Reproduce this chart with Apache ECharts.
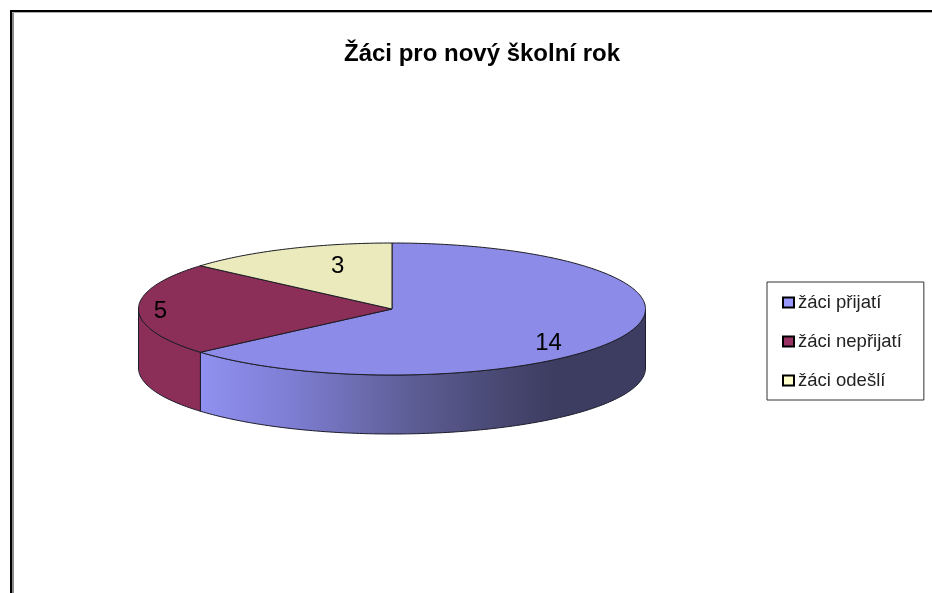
<!DOCTYPE html>
<html>
<head>
<meta charset="utf-8">
<style>
  html, body { margin: 0; padding: 0; background: #fff; }
  #chart { width: 932px; height: 593px; }
</style>
<script src="https://cdn.jsdelivr.net/npm/echarts@6/dist/echarts.min.js"></script>
</head>
<body>
<div id="chart"></div>
<script>
var titleText = 'Žáci pro nový školní rok';
var categories = ['žáci přijatí', 'žáci nepřijatí', 'žáci odešlí'];
var values = [14, 5, 3];

var topColors = ['#8c8ce8', '#8b2e58', '#eaeabc'];
var legendColors = ['#9999ff', '#993366', '#ffffcc'];
// label offset from the rim point at the slice's middle angle
var labelOffsets = [[-74, 7], [22, 2], [51, 17]];

var cx = 392, cy = 309, rx = 253.5, ry = 66, depth = 59;
var font = '"Liberation Sans", Arial, sans-serif';
var total = values.reduce(function (a, b) { return a + b; }, 0);

function rim(deg, dy) {
  var a = deg * Math.PI / 180;
  return [cx + rx * Math.sin(a), cy - ry * Math.cos(a) + (dy || 0)];
}

function arcPoints(from, to, dy) {
  var pts = [];
  var n = Math.max(2, Math.ceil(Math.abs(to - from)));
  for (var i = 0; i <= n; i++) {
    pts.push(rim(from + (to - from) * i / n, dy));
  }
  return pts;
}

function wallFill(idx) {
  if (idx !== 0) return topColors[idx];
  return new echarts.graphic.LinearGradient(201, 0, 646, 0, [
    { offset: 0, color: '#9090f0' },
    { offset: 0.2, color: '#7e7ed4' },
    { offset: 0.45, color: '#60609a' },
    { offset: 0.7, color: '#45456e' },
    { offset: 0.8, color: '#3d3d62' },
    { offset: 1, color: '#3d3d62' }
  ], true);
}

function makeRenderItem(idx) {
  return function (params, api) {
    var before = 0;
    for (var i = 0; i < idx; i++) before += values[i];
    var from = before / total * 360;
    var to = (before + api.value(0)) / total * 360;
    var mid = (from + to) / 2;
    var children = [];

    // visible part of the side wall is the front half of the ellipse
    var wFrom = Math.max(from, 90), wTo = Math.min(to, 270);
    if (wTo > wFrom) {
      var wall = arcPoints(wFrom, wTo, 0).concat(arcPoints(wTo, wFrom, depth));
      children.push({
        type: 'polygon',
        shape: { points: wall },
        style: { fill: wallFill(idx), stroke: '#1c1c2c', lineWidth: 1 }
      });
    }

    children.push({
      type: 'polygon',
      shape: { points: [[cx, cy]].concat(arcPoints(from, to, 0)) },
      style: { fill: topColors[idx], stroke: '#1c1c24', lineWidth: 1 }
    });

    var p = rim(mid, 0);
    children.push({
      type: 'text',
      z2: 10,
      style: {
        x: p[0] + labelOffsets[idx][0],
        y: p[1] + labelOffsets[idx][1],
        text: String(api.value(0)),
        fill: '#000',
        font: '24px ' + font,
        align: 'center',
        verticalAlign: 'middle'
      }
    });
    return { type: 'group', children: children };
  };
}

var chart = echarts.init(document.getElementById('chart'));
chart.setOption({
  animation: false,
  backgroundColor: '#fff',
  title: {
    text: titleText,
    left: 477,
    top: 37,
    textAlign: 'center',
    textStyle: { fontFamily: font, fontSize: 24, fontWeight: 'bold', color: '#000' }
  },
  legend: {
    left: 767,
    top: 282,
    orient: 'vertical',
    selectedMode: false,
    backgroundColor: '#fff',
    borderColor: '#333',
    borderWidth: 1,
    padding: [11, 22, 10, 15],
    itemWidth: 11,
    itemHeight: 10,
    itemGap: 20,
    icon: 'rect',
    textStyle: { fontFamily: font, fontSize: 18.5, color: '#222', padding: [0, 0, 0, -1] },
    data: categories.map(function (name, i) {
      return { name: name, itemStyle: { color: legendColors[i], borderColor: '#000', borderWidth: 2 } };
    })
  },
  series: categories.map(function (name, i) {
    return {
      type: 'custom',
      name: name,
      coordinateSystem: 'none',
      silent: true,
      itemStyle: { color: legendColors[i] },
      data: [[values[i]]],
      renderItem: makeRenderItem(i)
    };
  }),
  graphic: [
    // sheet frame, cut off by the right and bottom of the picture
    { type: 'rect', shape: { x: 12, y: 12, width: 2, height: 581 }, style: { fill: '#8c8c8c' }, silent: true },
    { type: 'rect', shape: { x: 12, y: 12, width: 920, height: 1 }, style: { fill: '#b0b0b0' }, silent: true },
    { type: 'rect', shape: { x: 10, y: 10, width: 922, height: 2 }, style: { fill: '#000' }, silent: true },
    { type: 'rect', shape: { x: 10, y: 10, width: 2, height: 583 }, style: { fill: '#000' }, silent: true }
  ]
});
</script>
</body>
</html>
